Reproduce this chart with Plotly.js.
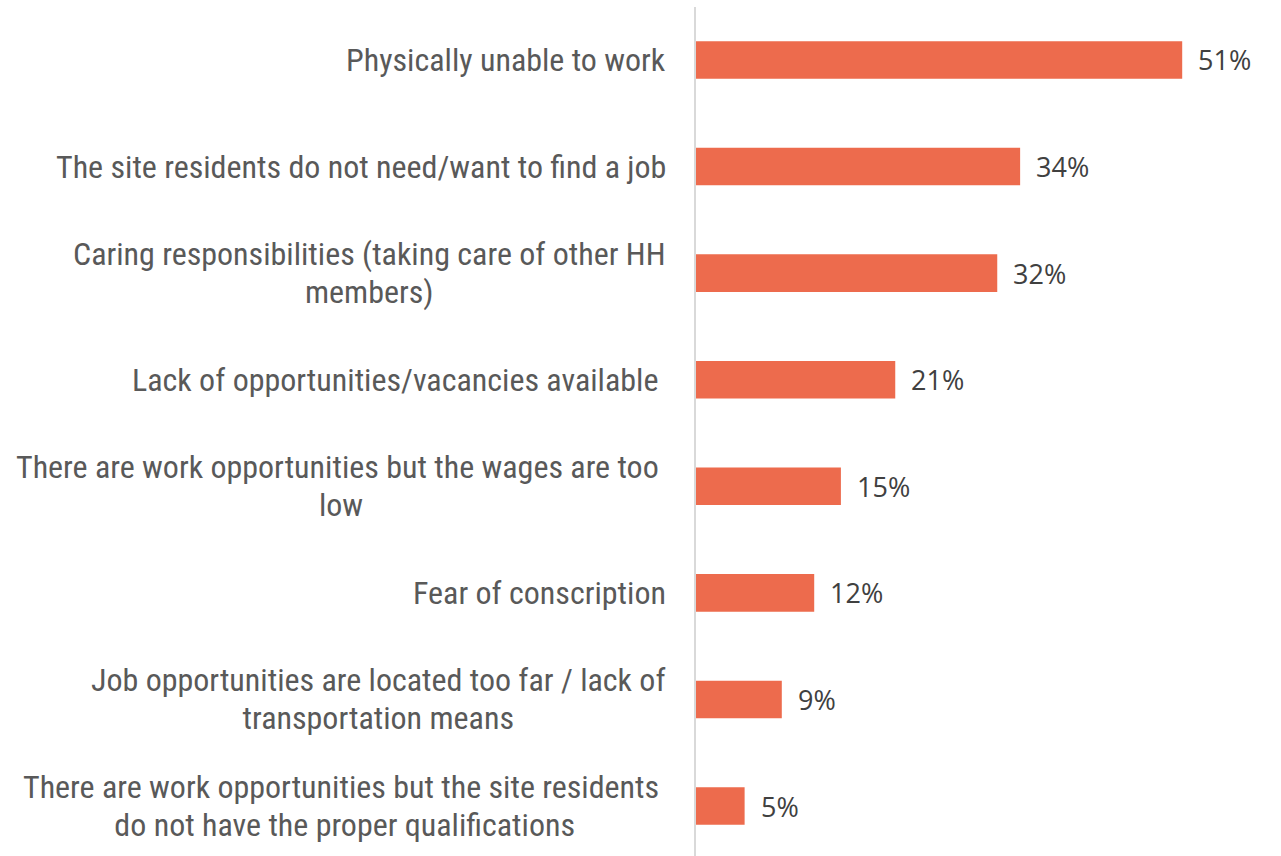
<!DOCTYPE html>
<html>
<head>
<meta charset="utf-8">
<script src="https://cdn.plot.ly/plotly-3.0.1.min.js"></script>
<style>
html, body { margin: 0; padding: 0; background: #fff; }
#chart { width: 1281px; height: 856px; }
</style>
</head>
<body>
<div id="chart"></div>
<script>
const categories = [
  "Physically unable to work",
  "The site residents do not need/want to find a job",
  "Caring responsibilities (taking care of other HH<br>members)",
  "Lack of opportunities/vacancies available\u00a0",
  "There are work opportunities but the wages are too\u00a0<br>low",
  "Fear of conscription",
  "Job opportunities are located too far / lack of<br>transportation means",
  "There are work opportunities but the site residents\u00a0<br>do not have the proper qualifications"
];
const values = [51, 34, 31.6, 20.9, 15.2, 12.4, 9.0, 5.1];
const valueLabels = ["51%", "34%", "32%", "21%", "15%", "12%", "9%", "5%"];

const labelFont = "Roboto Condensed, Liberation Sans Narrow, DejaVu Sans Condensed, Roboto, sans-serif";

const trace = {
  type: "bar",
  orientation: "h",
  y: categories,
  x: values,
  width: 0.353,
  marker: { color: "#ED6B4D" },
  hoverinfo: "skip"
};

const valueAnnotations = values.map((v, i) => ({
  x: v,
  y: categories[i],
  xref: "x",
  yref: "y",
  text: valueLabels[i],
  showarrow: false,
  xanchor: "left",
  yanchor: "middle",
  xshift: 14,
  font: { family: "Open Sans, Carlito, sans-serif", size: 27, color: "#404040" }
}));

const categoryAnnotations = categories.map((c) => ({
  x: 0,
  y: c,
  xref: "paper",
  yref: "y",
  text: c,
  showarrow: false,
  xanchor: "right",
  yanchor: "middle",
  align: "center",
  xshift: -28,
  font: { family: labelFont, size: 32, color: "#595959" }
}));

const layout = {
  width: 1281,
  height: 856,
  margin: { l: 696, r: 13, t: 7, b: 0 },
  paper_bgcolor: "#ffffff",
  plot_bgcolor: "#ffffff",
  showlegend: false,
  xaxis: {
    range: [0, 60],
    showgrid: false,
    zeroline: false,
    showticklabels: false,
    showline: false,
    ticks: ""
  },
  yaxis: {
    type: "category",
    range: [7.469, -0.497],
    showgrid: false,
    zeroline: false,
    showline: true,
    linecolor: "#D9D9D9",
    linewidth: 2,
    ticks: "",
    showticklabels: false
  },
  annotations: categoryAnnotations.concat(valueAnnotations)
};

Plotly.newPlot("chart", [trace], layout, { displayModeBar: false, staticPlot: true }).then(() => {
  // set line spacing of multi-line category labels to match the reference
  const spacing = 1.19, plotlySpacing = 1.3;
  document.querySelectorAll("#chart .annotation-text").forEach((t) => {
    const lines = t.querySelectorAll("tspan.line");
    if (lines.length > 1) {
      const n = lines.length;
      const offset = (plotlySpacing - spacing) * (n - 1) / 2;
      lines.forEach((ln, k) => ln.setAttribute("dy", (k * spacing + offset) + "em"));
    }
  });
});
</script>
</body>
</html>
